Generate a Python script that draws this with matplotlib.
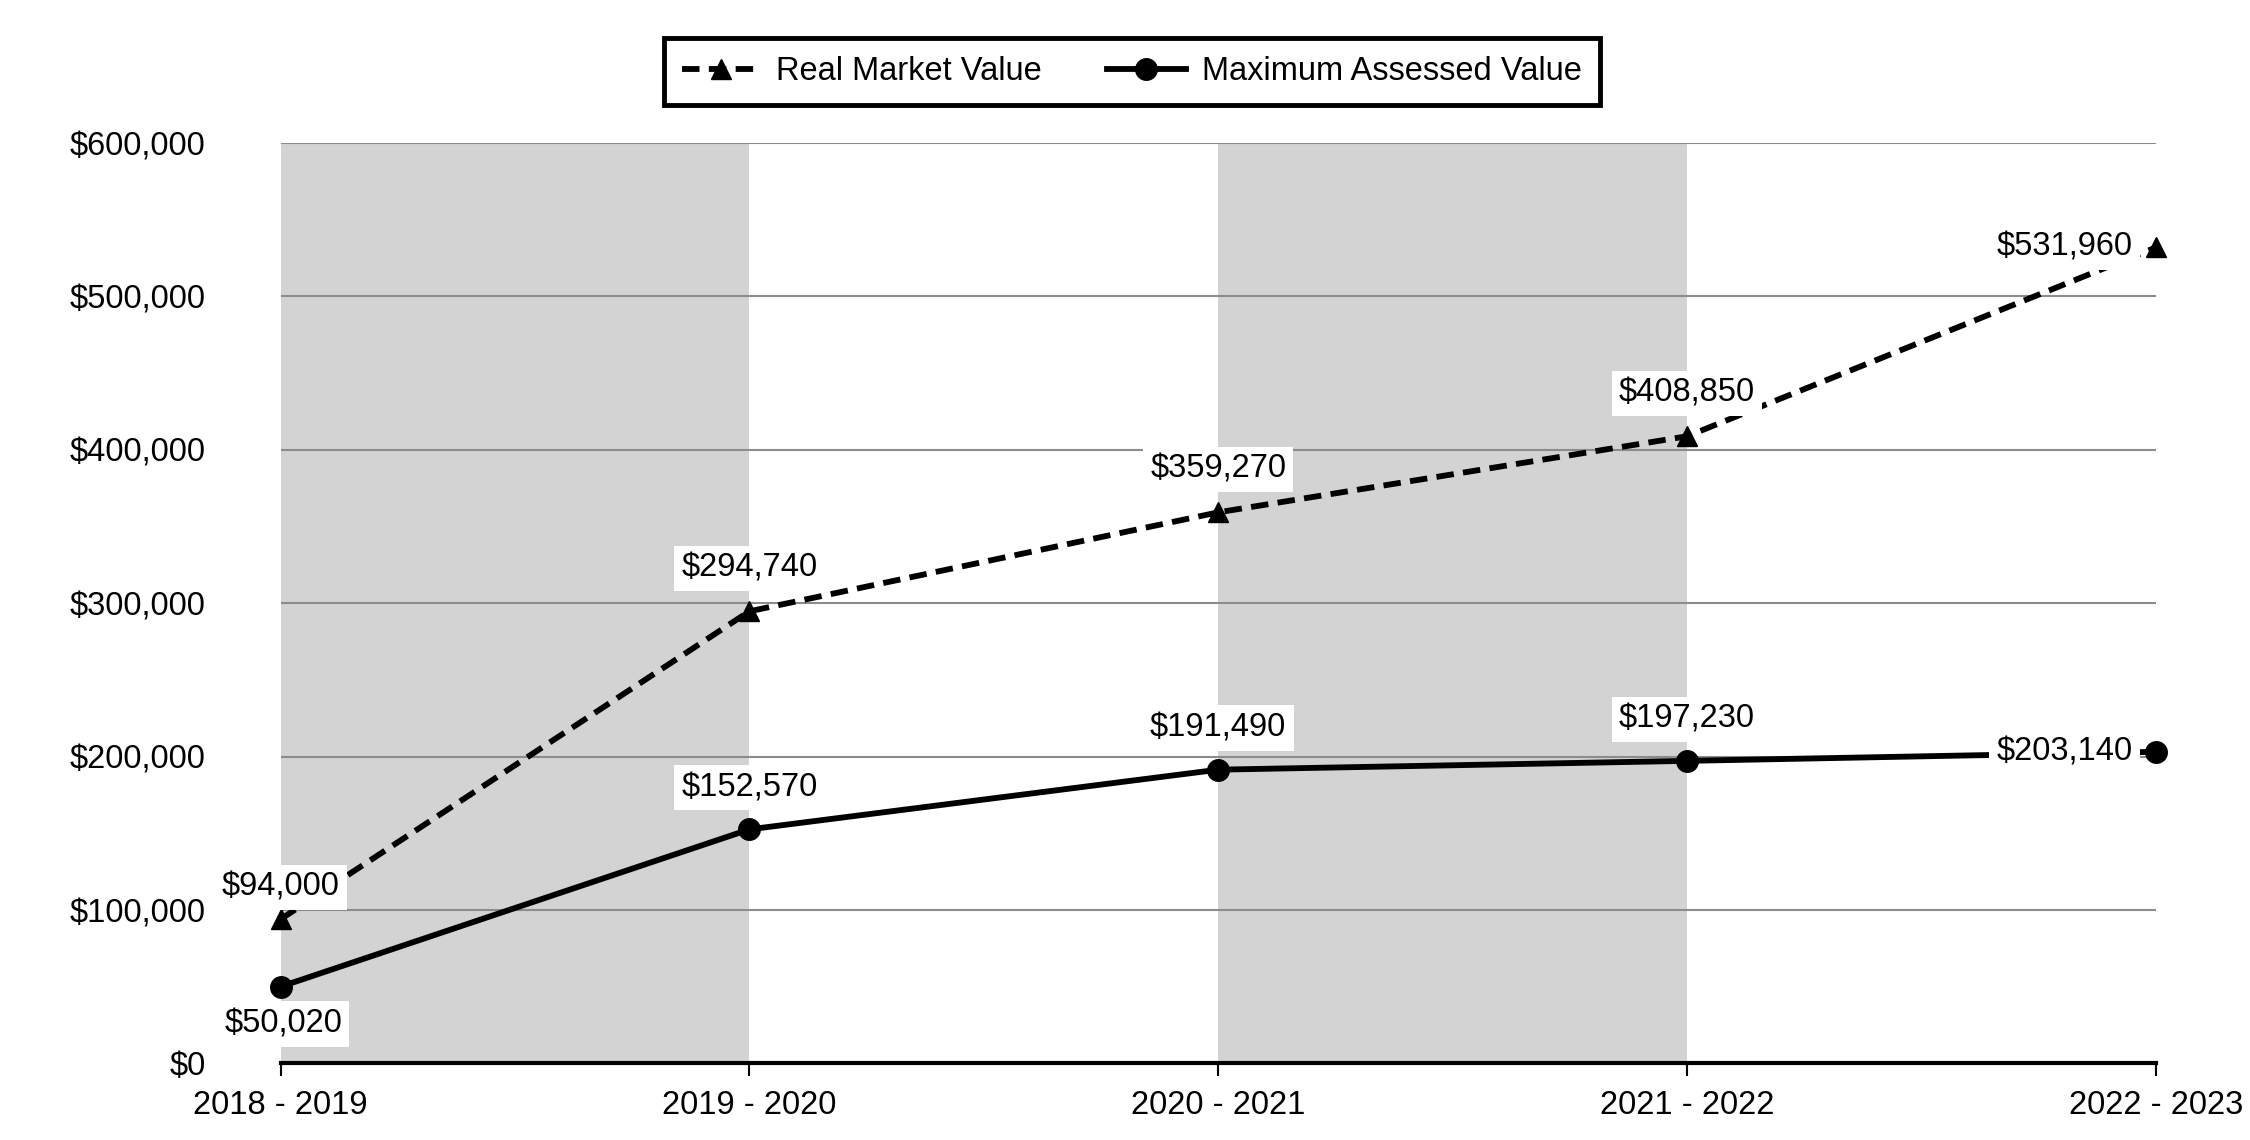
import matplotlib
matplotlib.use("Agg")
import matplotlib.pyplot as plt
from matplotlib.ticker import FuncFormatter

categories = ["2018 - 2019", "2019 - 2020", "2020 - 2021", "2021 - 2022", "2022 - 2023"]
real_market_value = [94000, 294740, 359270, 408850, 531960]
max_assessed_value = [50020, 152570, 191490, 197230, 203140]
y_ticks = [0, 100000, 200000, 300000, 400000, 500000, 600000]

plt.rcParams['font.family'] = ['Liberation Sans', 'DejaVu Sans']
FS = 23.5

fig = plt.figure(figsize=(22.5, 11.4), dpi=100)
ax = fig.add_axes([0.1247, 0.0672, 0.9582 - 0.1247, 0.8745 - 0.0672])

x = list(range(len(categories)))
# alternating shaded bands
for i in range(0, len(categories) - 1, 2):
    ax.axvspan(x[i], x[i + 1], color="#d3d3d3", zorder=0, lw=0)

ax.set_ylim(0, 600000)
ax.set_xlim(x[0], x[-1])
ax.set_yticks(y_ticks)
ax.yaxis.set_major_formatter(FuncFormatter(lambda v, p: f"${v:,.0f}"))
ax.grid(axis='y', color="#8c8c8c", lw=1.5, zorder=1)
ax.set_axisbelow(False)
ax.set_xticks(x)
ax.set_xticklabels(categories)
for s in ["left", "right", "top"]:
    ax.spines[s].set_visible(False)
ax.spines["bottom"].set_linewidth(3)
ax.spines["bottom"].set_zorder(3)
ax.tick_params(axis='y', length=0, pad=54, labelsize=FS)
ax.tick_params(axis='x', length=9, width=1.5, pad=10, labelsize=FS, direction='out')

ax.plot(x, real_market_value, color="black", lw=4.2, ls=(0, (3.0, 1.6)),
        marker="^", ms=15, label="Real Market Value", zorder=4, clip_on=False)
ax.plot(x, max_assessed_value, color="black", lw=4.2, ls="-",
        marker="o", ms=15.5, label="Maximum Assessed Value", zorder=4, clip_on=False)

bbox = dict(boxstyle="square,pad=0.22", fc="white", ec="none")

def label(xi, yi, offset, ha="center", va="center"):
    ax.annotate(f"${yi:,.0f}", (xi, yi), xytext=offset, textcoords="offset points",
                ha=ha, va=va, fontsize=FS, bbox=bbox, zorder=5, annotation_clip=False)

# Real market value labels
for i, v in enumerate(real_market_value):
    if i == len(categories) - 1:
        label(i, v, (-17, 0), ha="right")
    else:
        label(i, v, (0, 23 if i == 0 else 31))
# Maximum assessed value labels
for i, v in enumerate(max_assessed_value):
    if i == 0:
        label(i, v, (2, -27))
    elif i == len(categories) - 1:
        label(i, v, (-17, 0), ha="right")
    else:
        label(i, v, (0, 30))

leg = fig.legend(loc="center", bbox_to_anchor=(0.503, 0.937), ncol=2, fontsize=FS,
                 frameon=True, fancybox=False, edgecolor="black", framealpha=1,
                 handlelength=2.4, columnspacing=2.0, borderpad=0.55, handletextpad=0.5)
leg.get_frame().set_linewidth(3.5)

fig.savefig("out.png", dpi=100, facecolor="white")
